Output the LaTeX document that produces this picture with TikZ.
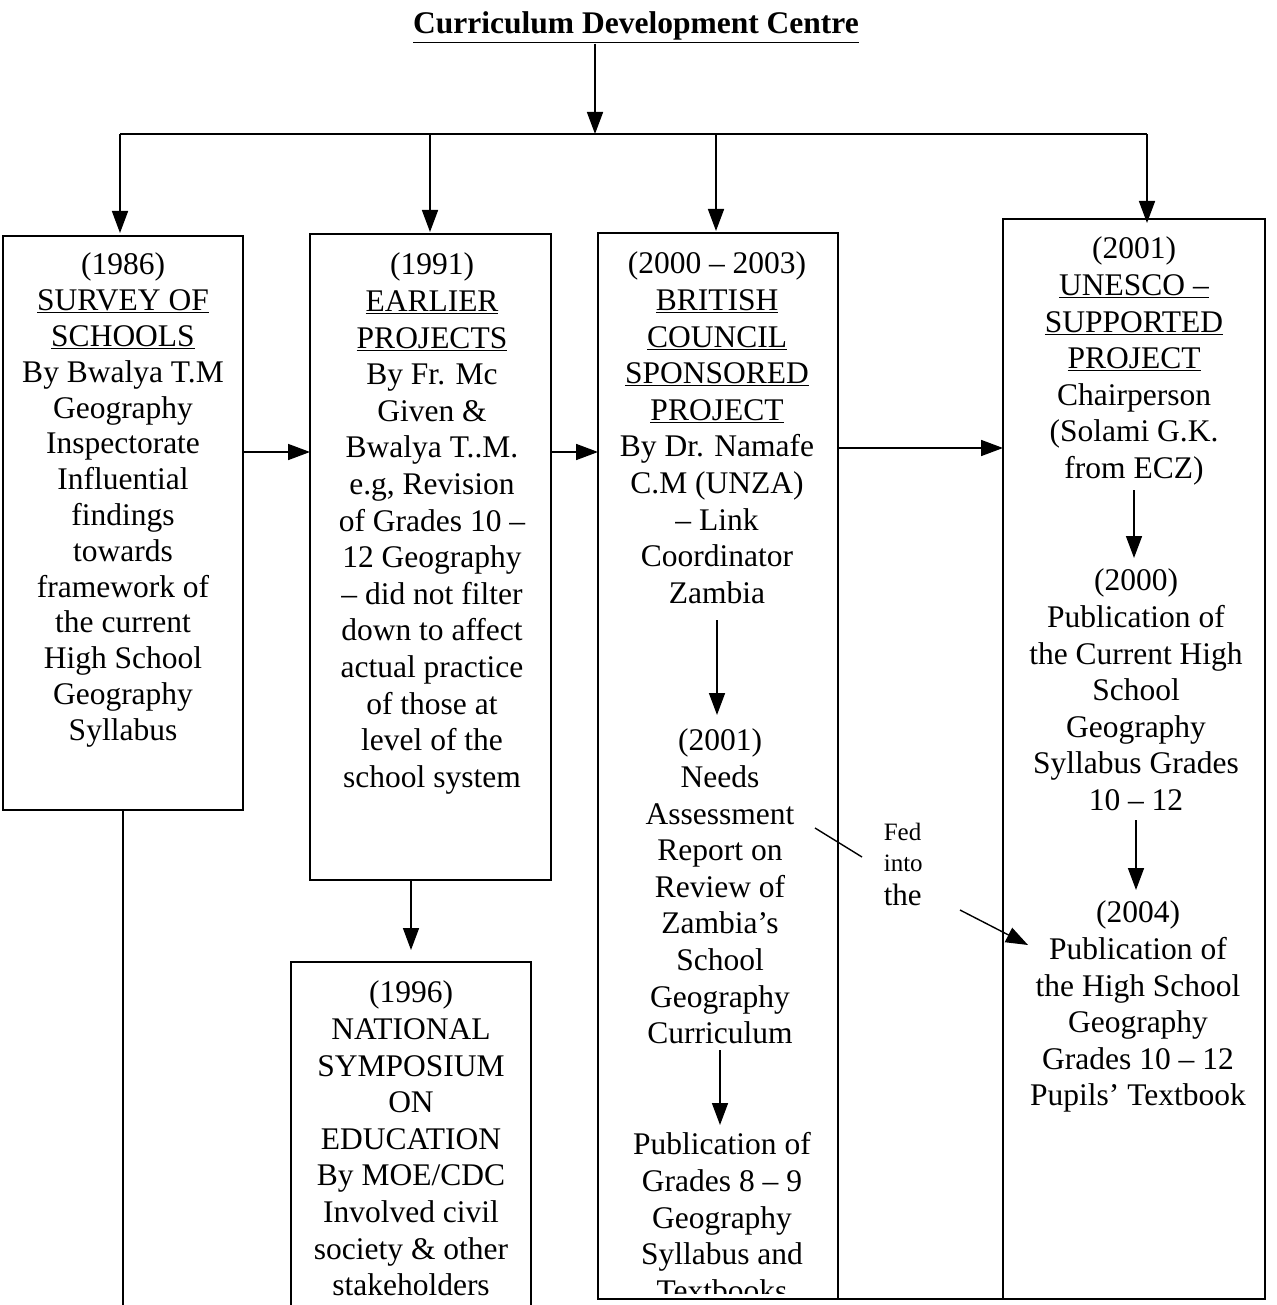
\documentclass[tikz,border=0pt]{standalone}
\usepackage{fontspec}
\setmainfont{Liberation Serif}
\usetikzlibrary{arrows.meta}
\newcommand\fs{\rule{0pt}{28pt}}
\newcommand\fsm{\rule{0pt}{22pt}}
\begin{document}
\begin{tikzpicture}[x=1pt,y=-1pt,line width=1.6pt,
  frame/.style={draw, rectangle, anchor=north west, inner sep=0pt, outer sep=0pt},
  txt/.style={align=center, anchor=north, inner sep=0pt, font=\fontsize{31.5}{36.6}\selectfont},
  arr/.style={-{Triangle[length=22pt,width=16pt]}},
]
\useasboundingbox (0,0) rectangle (1276,1305);
\clip (0,0) rectangle (1276,1305);

% title
\node[anchor=base, inner sep=0pt, font=\fontsize{31.5}{36}\selectfont\bfseries] (title) at (636,34) {\underline{Curriculum Development Centre}};

% frames
\node[frame, minimum width=240, minimum height=574] (b1) at (3,236) {};
\node[frame, minimum width=241, minimum height=646] (b2) at (310,234) {};
\node[frame, minimum width=240, minimum height=500] (b5) at (291,962) {};
\node[frame, minimum width=240, minimum height=1066] (b3) at (598,233) {};
\node[frame, minimum width=262, minimum height=1080] (b4) at (1003,219) {};
\draw (b3.south west) -- (b4.south east);

% texts
\node[txt, font=\fontsize{31.5}{35.8}\selectfont] (t1) at (123,246) {\fs(1986)\\\underline{SURVEY OF}\\\underline{SCHOOLS}\\By Bwalya T.M\\Geography\\Inspectorate\\Influential\\findings\\towards\\framework of\\the current\\High School\\Geography\\Syllabus};

\node[txt] (t2) at (432,246) {\fs(1991)\\\underline{EARLIER}\\\underline{PROJECTS}\\By Fr. Mc\\Given \&\\Bwalya T..M.\\e.g, Revision\\of Grades 10 –\\12 Geography\\– did not filter\\down to affect\\actual practice\\of those at\\level of the\\school system};

\node[txt] (t5) at (411,974) {\fs(1996)\\NATIONAL\\SYMPOSIUM\\ON\\EDUCATION\\By MOE/CDC\\Involved civil\\society \& other\\stakeholders};

\node[txt] (t3a) at (717,245) {\fs(2000 – 2003)\\\underline{BRITISH}\\\underline{COUNCIL}\\\underline{SPONSORED}\\\underline{PROJECT}\\By Dr. Namafe\\C.M (UNZA)\\– Link\\Coordinator\\Zambia};
\node[txt] (t3b) at (720,722) {\fs(2001)\\Needs\\Assessment\\Report on\\Review of\\Zambia’s\\School\\Geography\\Curriculum};
\begin{scope}
\clip (600,1100) rectangle (836,1293);
\node[txt] (t3c) at (722,1126) {\fs Publication of\\Grades 8 – 9\\Geography\\Syllabus and\\Textbooks};
\end{scope}

\node[txt] (t4a) at (1134,230) {\fs(2001)\\\underline{UNESCO –}\\\underline{SUPPORTED}\\\underline{PROJECT}\\Chairperson\\(Solami G.K.\\from ECZ)};
\node[txt] (t4b) at (1136,562) {\fs(2000)\\Publication of\\the Current High\\School\\Geography\\Syllabus Grades\\10 – 12};
\node[txt] (t4c) at (1138,894) {\fs(2004)\\Publication of\\the High School\\Geography\\Grades 10 – 12\\Pupils’ Textbook};

\node[anchor=north west, inner sep=0pt, align=left, font=\fontsize{25}{31}\selectfont] (fed) at (883,818) {\fsm Fed\\into\\[3pt]\fontsize{31}{31}\selectfont the};

% coordinates
\coordinate (busL) at (120,134);
\coordinate (busR) at (1147,134);
\coordinate (busM) at (595,134);
\coordinate (d2) at (430,134);
\coordinate (d3) at (716,134);
\coordinate (h1) at (0,452);
\coordinate (h2) at (0,448);
\coordinate (bot) at (0,1320);
\coordinate (fa) at (815,828);
\coordinate (fb) at (862,857);
\coordinate (fc) at (960,910);
\coordinate (fd) at (1028,945);

% top connectors
\draw[arr] (title.south -| busM) -- (busM);
\draw (busL) -- (busR);
\draw[arr, shorten >=3pt] (busL) -- (busL |- b1.north);
\draw[arr, shorten >=2pt] (d2) -- (d2 |- b2.north);
\draw[arr, shorten >=2pt] (d3) -- (d3 |- b3.north);
\draw[arr, shorten >=-4pt] (busR) -- (busR |- b4.north);

% horizontal connectors
\draw[arr] (b1.east |- h1) -- (b2.west |- h1);
\draw[arr] (b2.east |- h1) -- (b3.west |- h1);
\draw[arr] (b3.east |- h2) -- (b4.west |- h2);

% vertical connectors
\draw[arr, shorten >=12pt] (b2.south -| b5.north) -- (b5.north);
\draw (b1.south) -- (b1.south |- bot);
\draw[arr] (t3a.south |- 0,620) -- (t3a.south |- 0,715);
\draw[arr] (t3b.south |- 0,1050) -- (t3b.south |- 0,1125);
\draw[arr] (t4a.south |- 0,490) -- (t4a.south |- 0,558);
\draw[arr] (t4b.south |- 0,820) -- (t4b.south |- 0,890);

% fed into the
\draw[line width=1.4pt] (fa) -- (fb);
\draw[arr, line width=1.4pt] (fc) -- (fd);
\end{tikzpicture}
\end{document}
